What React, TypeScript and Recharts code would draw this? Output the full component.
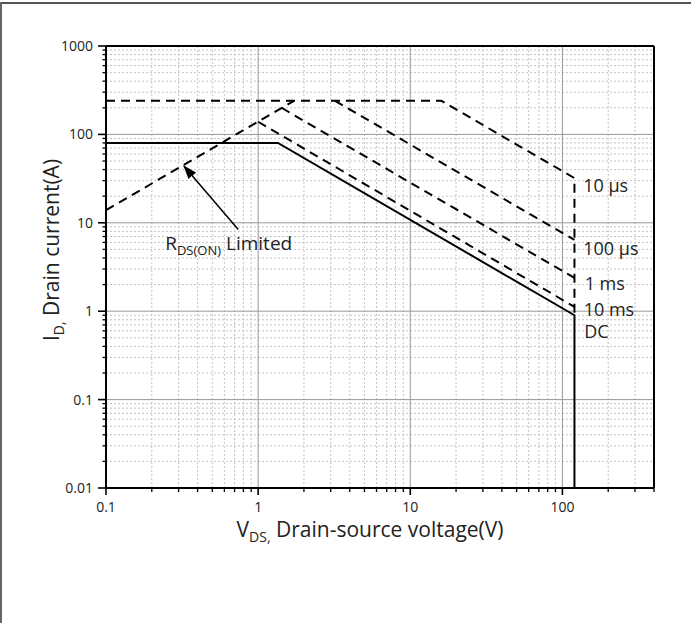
import React from 'react';
import { LineChart, Line, XAxis, YAxis, ReferenceLine, ReferenceDot } from 'recharts';

// Axis ticks
const xMajor = [0.1, 1, 10, 100];
const xMinor = [0.2, 0.3, 0.4, 0.5, 0.6, 0.7, 0.8, 0.9, 2, 3, 4, 5, 6, 7, 8, 9, 20, 30, 40, 50, 60, 70, 80, 90, 200, 300, 400];
const yMajor = [0.01, 0.1, 1, 10, 100, 1000];
const yMinor = [
  0.02, 0.03, 0.04, 0.05, 0.06, 0.07, 0.08, 0.09,
  0.2, 0.3, 0.4, 0.5, 0.6, 0.7, 0.8, 0.9,
  2, 3, 4, 5, 6, 7, 8, 9,
  20, 30, 40, 50, 60, 70, 80, 90,
  200, 300, 400, 500, 600, 700, 800, 900,
];

// Safe operating area curves (V in volts, I in amps)
const dcV = [0.1, 1.35, 120, 120];
const dcI = [80, 80, 0.9, 0.01];
const us10V = [0.1, 16, 120, 120];
const us10I = [240, 240, 32, 0.9];
const us100V = [3.2, 120];
const us100I = [240, 6.4];
const ms1V = [1.43, 120];
const ms1I = [199, 2.38];
const ms10V = [1.0, 120];
const ms10I = [139, 1.12];
const rdsV = [0.1, 1.72];
const rdsI = [13.9, 240];
const arrowV = [0.74, 0.325];
const arrowI = [8.4, 44];

// Curve labels (text, left x in V, baseline in A)
const curveLabels = ['10 µs', '100 µs', '1 ms', '10 ms', 'DC'];
const curveLabelV = [137, 137, 140, 138, 139];
const curveLabelI = [22.3, 4.32, 1.74, 0.89, 0.5];
const rdsLabelV = 0.245;
const rdsLabelI = 4.9;

const toPts = (xs: number[], ys: number[]) => xs.map((x, i) => ({ x, y: ys[i] }));

const FONT = '"Open Sans", "Noto Sans", sans-serif';
const TXT = '#222';

const XTick = (props: any) => {
  const { x, y, payload } = props;
  const v = payload.value;
  const major = xMajor.includes(v);
  return (
    <g>
      <line x1={x} x2={x} y1={y} y2={y + (major ? 7 : 4)} stroke="#000" strokeWidth={major ? 1.6 : 1.3} />
      {major && (
        <text x={x} y={y + 24} textAnchor="middle" fontSize={14} fill={TXT} fontFamily={FONT}>
          {String(v)}
        </text>
      )}
    </g>
  );
};

const YTick = (props: any) => {
  const { x, y, payload } = props;
  const v = payload.value;
  const major = yMajor.includes(v);
  return (
    <g>
      <line x1={x - (major ? 8 : 3.5)} x2={x} y1={y} y2={y} stroke="#000" strokeWidth={major ? 1.6 : 1.3} />
      {major && (
        <text x={x - 13} y={y + 5} textAnchor="end" fontSize={14} fill={TXT} fontFamily={FONT}>
          {String(v)}
        </text>
      )}
    </g>
  );
};

const YTitle = () => {
  const cx = 59;
  const cy = 250;
  return (
    <text
      x={cx}
      y={cy}
      transform={`rotate(-90 ${cx} ${cy})`}
      textAnchor="middle"
      fontSize={21}
      fill={TXT}
      fontFamily={FONT}
    >
      I
      <tspan fontSize={14} dy={5}>D,</tspan>
      <tspan dy={-5}> Drain current(A)</tspan>
    </text>
  );
};

const XTitle = () => {
  return (
    <text x={370} y={537} textAnchor="middle" fontSize={21} fill={TXT} fontFamily={FONT}>
      V
      <tspan fontSize={14} dy={5}>DS,</tspan>
      <tspan dy={-5}> Drain-source voltage(V)</tspan>
    </text>
  );
};

const CurveLabel = (props: any) => {
  const { viewBox, text } = props;
  if (!viewBox) return null;
  return (
    <text x={viewBox.x} y={viewBox.y} fontSize={18} fill={TXT} fontFamily={FONT}>
      {text}
    </text>
  );
};

const RdsLabel = (props: any) => {
  const { viewBox } = props;
  if (!viewBox) return null;
  return (
    <text x={viewBox.x} y={viewBox.y} fontSize={19} fill={TXT} fontFamily={FONT}>
      R
      <tspan fontSize={13} dy={5}>DS(ON)</tspan>
      <tspan dy={-5}> Limited</tspan>
    </text>
  );
};

const dashed = { stroke: '#000', strokeWidth: 2, strokeDasharray: '9 6' };

export default function App() {
  return (
    <div style={{ position: 'absolute', left: 0, top: 0, width: 691, height: 623, background: '#fff' }}>
      <div style={{ position: 'absolute', left: 0, top: 2, width: 691, height: 2, background: '#555' }} />
      <div style={{ position: 'absolute', left: 0, top: 2, width: 2, height: 621, background: '#666' }} />
      <svg width={0} height={0} style={{ position: 'absolute' }}>
        <defs>
          <marker id="arrowhead" markerWidth="14" markerHeight="10" refX="13" refY="5" orient="auto" markerUnits="userSpaceOnUse">
            <path d="M0,0 L14,5 L0,10 z" fill="#000" />
          </marker>
        </defs>
      </svg>
      <div style={{ position: 'absolute', left: 0, top: 0 }}>
        <LineChart width={691} height={623} margin={{ top: 46, right: 37, bottom: 105, left: 0 }}>
          <XAxis
            dataKey="x"
            type="number"
            scale="log"
            domain={[0.1, 400]}
            ticks={[...xMajor, ...xMinor]}
            interval={0}
            allowDataOverflow
            height={30}
            tickLine={false}
            tickSize={0}
            tickMargin={0}
            tick={<XTick />}
            axisLine={{ stroke: '#000', strokeWidth: 2 }}
            label={<XTitle />}
          />
          <YAxis
            type="number"
            scale="log"
            domain={[0.01, 1000]}
            ticks={[...yMajor, ...yMinor]}
            interval={0}
            allowDataOverflow
            width={106}
            tickLine={false}
            tickSize={0}
            tickMargin={0}
            tick={<YTick />}
            axisLine={{ stroke: '#000', strokeWidth: 2 }}
            label={<YTitle />}
          />
          {xMinor.filter((v) => v < 400).map((v) => (
            <ReferenceLine key={'xm' + v} x={v} stroke="#c4c4c4" strokeWidth={1} strokeDasharray="2 2" />
          ))}
          {yMinor.map((v) => (
            <ReferenceLine key={'ym' + v} y={v} stroke="#c4c4c4" strokeWidth={1} strokeDasharray="2 2" />
          ))}
          {xMajor.filter((v) => v > 0.1).map((v) => (
            <ReferenceLine key={'xM' + v} x={v} stroke="#999" strokeWidth={1} />
          ))}
          {yMajor.filter((v) => v > 0.01 && v < 1000).map((v) => (
            <ReferenceLine key={'yM' + v} y={v} stroke="#999" strokeWidth={1} />
          ))}
          <ReferenceLine x={400} stroke="#000" strokeWidth={2} />
          <ReferenceLine y={1000} stroke="#000" strokeWidth={2} />

          <Line data={toPts(us10V, us10I)} dataKey="y" type="linear" dot={false} isAnimationActive={false} {...dashed} />
          <Line data={toPts(us100V, us100I)} dataKey="y" type="linear" dot={false} isAnimationActive={false} {...dashed} />
          <Line data={toPts(ms1V, ms1I)} dataKey="y" type="linear" dot={false} isAnimationActive={false} {...dashed} />
          <Line data={toPts(ms10V, ms10I)} dataKey="y" type="linear" dot={false} isAnimationActive={false} {...dashed} />
          <Line data={toPts(rdsV, rdsI)} dataKey="y" type="linear" dot={false} isAnimationActive={false} {...dashed} />
          <Line data={toPts(dcV, dcI)} dataKey="y" type="linear" dot={false} isAnimationActive={false} stroke="#000" strokeWidth={2} />
          <Line
            data={toPts(arrowV, arrowI)}
            dataKey="y"
            type="linear"
            dot={false}
            isAnimationActive={false}
            stroke="#000"
            strokeWidth={1.5}
            markerEnd="url(#arrowhead)"
          />
          {curveLabels.map((t, i) => (
            <ReferenceDot
              key={t}
              x={curveLabelV[i]}
              y={curveLabelI[i]}
              r={0}
              fill="none"
              stroke="none"
              label={<CurveLabel text={t} />}
            />
          ))}
          <ReferenceDot x={rdsLabelV} y={rdsLabelI} r={0} fill="none" stroke="none" label={<RdsLabel />} />
        </LineChart>
      </div>
    </div>
  );
}
